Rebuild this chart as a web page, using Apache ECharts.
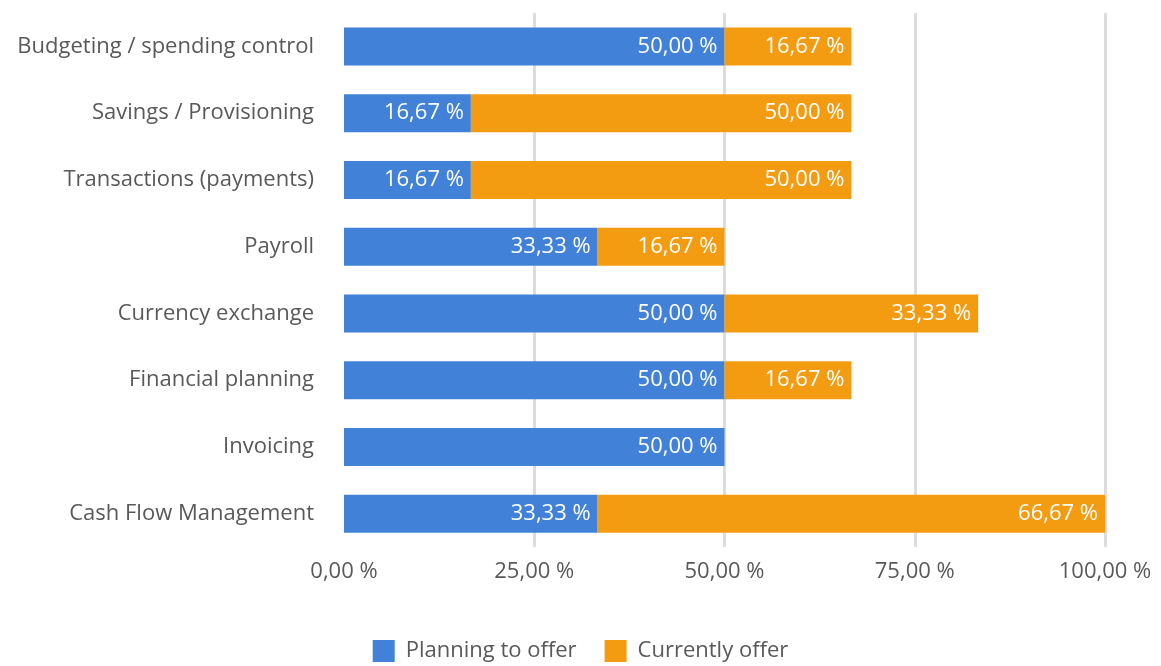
<!DOCTYPE html>
<html><head><meta charset="utf-8">
<script src="https://cdn.jsdelivr.net/npm/echarts@6/dist/echarts.min.js"></script>
<style>html,body{margin:0;padding:0;background:#fff}#c{width:1161px;height:666px}</style>
</head><body><div id="c"></div>
<script>
const categories = ["Budgeting / spending control","Savings / Provisioning","Transactions (payments)","Payroll","Currency exchange","Financial planning","Invoicing","Cash Flow Management"];
const planningToOffer = [50, 16.67, 16.67, 33.33, 50, 50, 50, 33.33];
const currentlyOffer = [16.67, 50, 50, 16.67, 33.33, 16.67, null, 66.67];
const seriesNames = ["Planning to offer", "Currently offer"];
const fmt = v => v.toFixed(2).replace('.', ',') + ' %';
const font = '"Open Sans", Lato, sans-serif';
const chart = echarts.init(document.getElementById('c'));
const lbl = {show: true, position: 'insideRight', color: '#fff', fontSize: 22, fontFamily: font, distance: 7,
  formatter: p => fmt(p.value)};
chart.setOption({
  animation: false,
  textStyle: {fontFamily: font},
  grid: {left: 344, right: 56, top: 13, bottom: 119, containLabel: false},
  xAxis: {type: 'value', min: 0, max: 100, interval: 25,
    axisLine: {show: false}, axisTick: {show: false},
    axisLabel: {formatter: v => fmt(v), color: '#595959', fontSize: 22, fontFamily: font, margin: 14},
    splitLine: {show: true, lineStyle: {color: ['rgba(0,0,0,0)', '#dcdcdc', '#dcdcdc', '#dcdcdc', '#dcdcdc'], width: 3}}},
  yAxis: {type: 'category', data: categories, inverse: true,
    axisLine: {show: false}, axisTick: {show: false},
    axisLabel: {color: '#595959', fontSize: 22, fontFamily: font, margin: 30}},
  legend: {top: 640, left: 'center', padding: 0, itemWidth: 22, itemHeight: 22, itemGap: 28, icon: 'rect',
    textStyle: {color: '#595959', fontSize: 22, fontFamily: font, padding: [0,0,0,6]}},
  series: [
    {name: seriesNames[0], type: 'bar', stack: 's', data: planningToOffer, barWidth: 38, itemStyle: {color: '#4182D8'}, label: lbl},
    {name: seriesNames[1], type: 'bar', stack: 's', data: currentlyOffer, barWidth: 38, itemStyle: {color: '#F39C12'}, label: lbl}
  ]
});
</script></body></html>
